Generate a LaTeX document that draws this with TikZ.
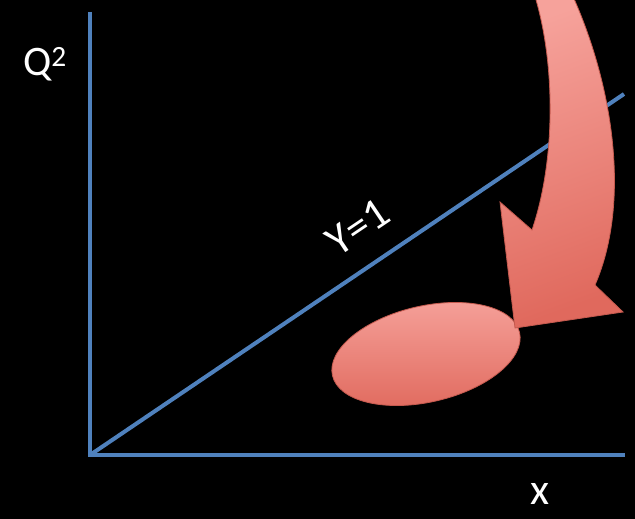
\documentclass[tikz,border=0pt]{standalone}
\usepackage{fontspec}
\setmainfont{Carlito}
\usetikzlibrary{shapes.geometric}
\definecolor{axisblue}{HTML}{4F81BD}
\definecolor{redlight}{HTML}{F6A29B}
\definecolor{reddark}{HTML}{E0695D}
\definecolor{redline}{HTML}{C55A4F}
\tikzset{
  axis/.style={draw=axisblue, line width=4pt},
  lbl/.style={text=white, inner sep=0pt},
  blob/.style={top color=redlight, bottom color=reddark, draw=redline, line width=0.8pt}
}
\begin{document}
\begin{tikzpicture}[x=1pt,y=-1pt]
\fill[black] (0,0) rectangle (635,519);
\useasboundingbox (0,0) rectangle (635,519);
\coordinate (o) at (90,455);
\coordinate (ytop) at (90,12);
\coordinate (xend) at (625,455);
\coordinate (dend) at (624,94);
\draw[axis] (ytop) -- (o) -- (xend);
\draw[axis] (o) -- (dend);
\node[lbl, font=\fontsize{42}{46}\selectfont] (q) at (45,64) {Q\textsuperscript{2}};
\node[lbl, font=\fontsize{44}{48}\selectfont] (xl) at (540,494) {x};
\node[lbl, rotate=34, font=\fontsize{44}{48}\selectfont] (yl) at (358,227) {Y=1};
\node[blob, ellipse, rotate=13, minimum width=192pt, minimum height=96pt, inner sep=0pt] (el) at (426,354) {};
\begin{scope}
\clip (0,0) rectangle (635,519);
\path[blob, shading angle=20] (570,-10) .. controls (612,80) and (632,200) .. (595,285)
  -- (623,312) -- (515,328) -- (500,202) -- (532,230)
  .. controls (556,160) and (556,60) .. (533,-10) -- cycle;
\end{scope}
\end{tikzpicture}
\end{document}
